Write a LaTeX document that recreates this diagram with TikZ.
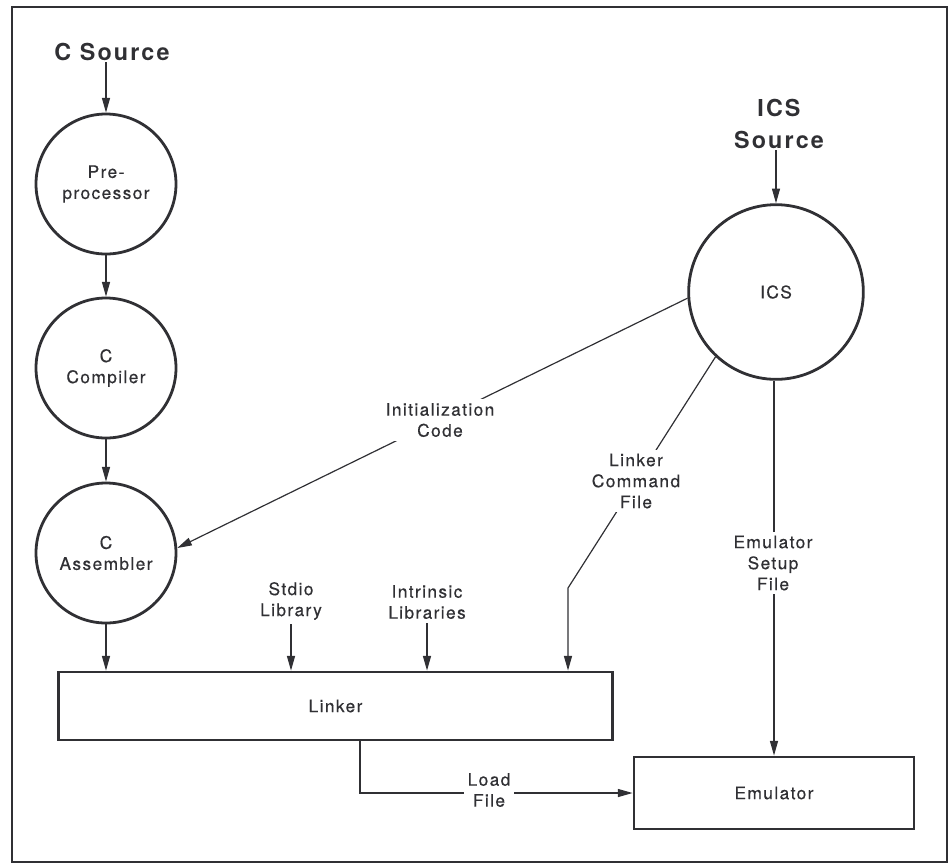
\documentclass[tikz,border=0pt]{standalone}
\usepackage{fontspec}
\setmainfont{TeX Gyre Heros}[LetterSpace=8]
\newfontfamily\lblfont{TeX Gyre Heros}[LetterSpace=8,FakeBold=0.4]
\newfontfamily\headfont{TeX Gyre Heros Bold}[LetterSpace=9]
\usetikzlibrary{arrows.meta,backgrounds}
\definecolor{ink}{RGB}{48,48,52}
\begin{document}
\begin{tikzpicture}[x=0.75pt,y=-0.75pt,
  ink/.style={draw=ink,text=ink},
  proc/.style={ink,circle,line width=2.1pt,minimum size=105pt,inner sep=0pt,align=center,
    font=\lblfont\fontsize{13}{15.75}\selectfont},
  bigproc/.style={proc,minimum size=131pt},
  box/.style={ink,rectangle,line width=2.1pt,inner sep=0pt,align=center,
    font=\lblfont\fontsize{13}{15.75}\selectfont},
  title/.style={text=ink,align=center,inner sep=1pt,font=\headfont\fontsize{17.5}{24}\selectfont},
  lbl/.style={text=ink,fill=white,align=center,inner sep=3pt,font=\lblfont\fontsize{13}{15.75}\selectfont},
  arr/.style={draw=ink,line width=0.9pt,-{Triangle[length=11pt,width=6pt]}},
  wire/.style={draw=ink,line width=0.9pt}]
\useasboundingbox (0,0) rectangle (952,865);
% outer frame
\draw[ink,line width=2.2pt] (12,7) rectangle (947,862);

% sources
\node[title] (csrc) at (112,52) {C Source};
\node[title] (icssrc) at (779,124) {ICS\\Source};

% C tool chain
\node[proc] (pre)  at (106,184) {Pre-\\processor};
\node[proc] (comp) at (106,368) {C\\Compiler};
\node[proc] (ass)  at (106,553) {C\\Assembler};
\node[bigproc] (ics) at (776,292) {ICS};

\node[box,minimum width=416pt,minimum height=51pt] (linker) at (335.5,706) {Linker};
\node[box,minimum width=210pt,minimum height=54pt] (emu) at (774,793) {Emulator};

% connector labels
\node[lbl] (stdio) at (291,601) {Stdio\\Library};
\node[lbl] (intr)  at (427,602) {Intrinsic\\Libraries};
\node[lbl] (init)  at (440,420) {Initialization\\Code};
\node[lbl] (lcf)   at (636,481) {Linker\\Command\\File};
\node[lbl] (esf)   at (773,563) {Emulator\\Setup\\File};
\node[lbl] (load)  at (489,790) {Load\\File};

\coordinate (kink) at (568,588);
\coordinate (lf) at (360,740);

\begin{scope}[on background layer]
  \draw[arr] (pre.north |- csrc.south) -- (pre.north);
  \draw[arr] (ics.north |- icssrc.south) -- (ics.north);
  \draw[arr] (pre) -- (comp);
  \draw[arr] (comp) -- (ass);
  \draw[arr] (ass.south) -- (ass.south |- linker.north);
  \draw[arr] (stdio.south) -- (stdio.south |- linker.north);
  \draw[arr] (intr.south) -- (intr.south |- linker.north);
  \draw[arr] (ics.184) -- (ass.4);
  \draw[arr] (ics.227.5) -- (kink) -- (kink |- linker.north);
  \draw[arr] (emu.north |- ics.south) -- (emu.north);
  \draw[arr] (lf |- linker.south) |- (emu.west);
\end{scope}
\end{tikzpicture}
\end{document}
